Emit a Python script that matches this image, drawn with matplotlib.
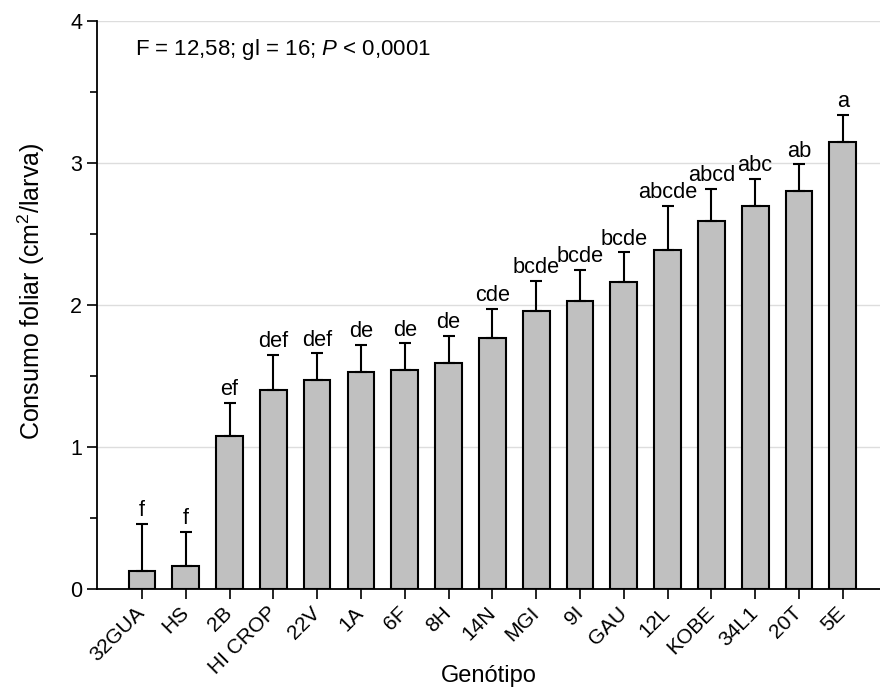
import numpy as np
import matplotlib
matplotlib.use('Agg')
from matplotlib import pyplot as plt
from matplotlib.ticker import MultipleLocator

plt.rcParams['font.family'] = ['Liberation Sans', 'DejaVu Sans']
plt.rcParams['mathtext.fontset'] = 'custom'
plt.rcParams['mathtext.rm'] = 'Liberation Sans'
plt.rcParams['mathtext.it'] = 'Liberation Sans:italic'

# genotypes, mean leaf consumption, upper SE, Tukey letters
genotipos = ['32GUA', 'HS', '2B', 'HI CROP', '22V', '1A', '6F', '8H', '14N',
             'MGI', '9I', 'GAU', '12L', 'KOBE', '34L1', '20T', '5E']
medias = [0.13, 0.16, 1.08, 1.40, 1.47, 1.53, 1.54, 1.59, 1.77,
          1.96, 2.03, 2.16, 2.39, 2.59, 2.70, 2.80, 3.15]
erros = [0.33, 0.24, 0.23, 0.25, 0.19, 0.19, 0.19, 0.19, 0.20,
         0.21, 0.22, 0.21, 0.31, 0.23, 0.19, 0.19, 0.19]
letras = ['f', 'f', 'ef', 'def', 'def', 'de', 'de', 'de', 'cde',
          'bcde', 'bcde', 'bcde', 'abcde', 'abcd', 'abc', 'ab', 'a']

x = np.arange(len(genotipos))

fig = plt.figure(figsize=(8.8, 6.91), dpi=100)
ax = fig.add_axes([0.110, 0.1476, 0.890, 0.822])

ax.bar(x, medias, width=0.61, color='#c0c0c0', edgecolor='black',
       linewidth=1.5, zorder=3)
ax.errorbar(x, medias, yerr=[np.zeros(len(x)), erros], fmt='none',
            ecolor='black', elinewidth=1.5, capsize=4.5, capthick=1.5, zorder=4)

tops = np.array(medias) + np.array(erros)
for xi, t, l in zip(x, tops, letras):
    ax.annotate(l, (xi, t), xytext=(0, 2), textcoords='offset points',
                ha='center', va='bottom', fontsize=15.7)

ax.text(-0.16, 3.8, r'F = 12,58; gl = 16; $\it{P}$ < 0,0001',
        ha='left', va='center', fontsize=16)

ax.set_xlim(-1.03, 16.85)
ax.set_ylim(0, 4)
ax.yaxis.set_major_locator(MultipleLocator(1))
ax.yaxis.set_minor_locator(MultipleLocator(0.5))
ax.set_xticks(x)
ax.set_xticklabels(genotipos, rotation=45, ha='right', va='center',
                   rotation_mode='anchor', fontsize=15)
ax.tick_params(axis='y', labelsize=15.5)
ax.tick_params(which='major', length=7, width=1.2, direction='out')
ax.tick_params(which='minor', length=5, width=1.2, direction='out')
ax.tick_params(axis='x', pad=8)

ax.grid(axis='y', color='#dddddd', linewidth=1, zorder=0)
ax.set_axisbelow(True)
for s in ['top', 'right']:
    ax.spines[s].set_visible(False)
for s in ['left', 'bottom']:
    ax.spines[s].set_linewidth(1.3)

ax.set_xlabel('Genótipo', fontsize=17, va='center')
ax.xaxis.set_label_coords(0.5, -0.153)
ax.set_ylabel(r'Consumo foliar (cm$^{2}$/larva)', fontsize=18)
ax.yaxis.set_label_coords(-0.064, 0.525)

plt.savefig('out.png', dpi=100)
